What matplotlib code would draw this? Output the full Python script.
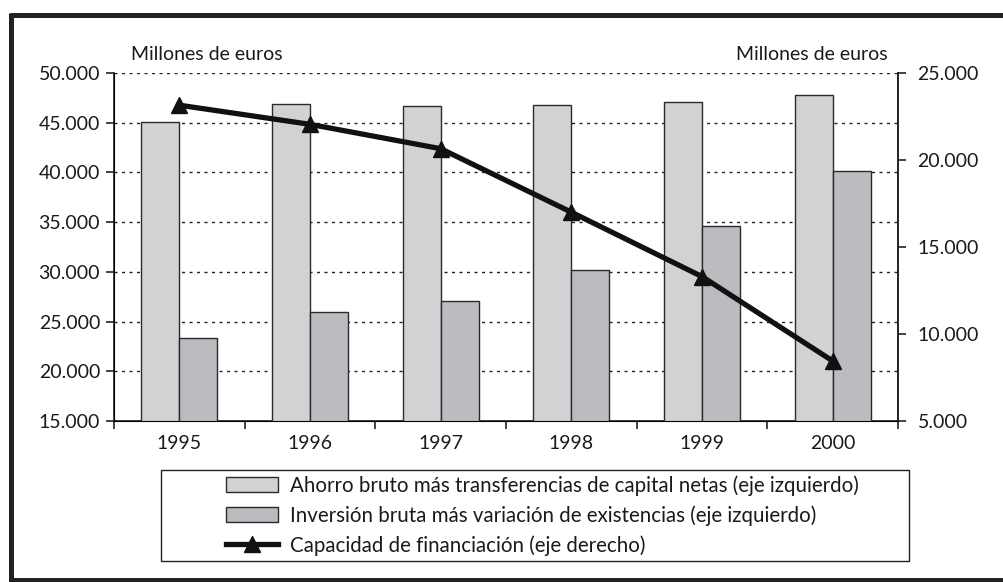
import matplotlib
matplotlib.use("Agg")
import matplotlib.pyplot as plt
from matplotlib.patches import Rectangle, Patch
from matplotlib.lines import Line2D
from matplotlib.ticker import FuncFormatter, FixedLocator

plt.rcParams["font.family"] = ["Lato", "DejaVu Sans"]

years = ["1995", "1996", "1997", "1998", "1999", "2000"]
ahorro = [45100, 46850, 46700, 46800, 47050, 47800]
inversion = [23300, 26000, 27100, 30200, 34600, 40100]
capacidad = [23150, 22050, 20650, 17000, 13300, 8450]

left_ticks = [15000, 20000, 25000, 30000, 35000, 40000, 45000, 50000]
right_ticks = [5000, 10000, 15000, 20000, 25000]

labels = [
    "Ahorro bruto más transferencias de capital netas (eje izquierdo)",
    "Inversión bruta más variación de existencias (eje izquierdo)",
    "Capacidad de financiación (eje derecho)",
]

LIGHT = "#d1d2d4"
DARK = "#bbbcc0"
EDGE = "#2a2a2a"
TXT = "#1a1a1a"
FS = 14


def miles(v, _pos=None):
    return f"{int(v):,}".replace(",", ".")


fig = plt.figure(figsize=(10.04, 5.82), dpi=100)
ax = fig.add_axes([114 / 1004, 1 - 421 / 582, 784 / 1004, 348 / 582])

x = list(range(len(years)))
w = 0.29
ax.bar([i - w / 2 for i in x], ahorro, width=w, color=LIGHT,
       edgecolor=EDGE, linewidth=1.0, zorder=3)
ax.bar([i + w / 2 for i in x], inversion, width=w, color=DARK,
       edgecolor=EDGE, linewidth=1.0, zorder=3)

ax.set_xlim(-0.5, len(years) - 0.5)
ax.set_ylim(left_ticks[0], left_ticks[-1])
ax.set_yticks(left_ticks)
ax.yaxis.set_major_formatter(FuncFormatter(miles))
ax.yaxis.grid(True, linestyle=(0, (2.2, 3.2)), color="#222222", linewidth=1.0, zorder=0)
ax.set_axisbelow(True)

# ticks at category boundaries, labels centred under each pair of bars
ax.xaxis.set_major_locator(FixedLocator([i - 0.5 for i in range(len(years) + 1)]))
ax.xaxis.set_minor_locator(FixedLocator(x))
ax.set_xticklabels([], minor=False)
ax.set_xticklabels(years, minor=True)
ax.tick_params(axis="x", which="major", direction="out", length=6, width=1.2, color="#222222")
ax.tick_params(axis="x", which="minor", length=0, pad=10, labelsize=FS, labelcolor=TXT)
ax.tick_params(axis="y", direction="out", length=6, width=1.2, pad=4,
               labelsize=FS, labelcolor=TXT, color="#222222")

ax.spines["top"].set_visible(False)
for s in ["left", "bottom", "right"]:
    ax.spines[s].set_linewidth(1.2)
    ax.spines[s].set_color("#222222")

ax2 = ax.twinx()
ax2.plot(x, capacidad, color="#111111", linewidth=3.8, marker="^",
         markersize=11, zorder=5, clip_on=False)
ax2.set_ylim(right_ticks[0], right_ticks[-1])
ax2.set_yticks(right_ticks)
ax2.yaxis.set_major_formatter(FuncFormatter(miles))
ax2.tick_params(axis="y", direction="out", length=6, width=1.2, pad=8,
                labelsize=FS, labelcolor=TXT, color="#222222")
ax2.spines["top"].set_visible(False)
ax2.spines["right"].set_linewidth(1.2)
ax2.spines["right"].set_color("#222222")

fig.text(131 / 1004, 1 - 54 / 582, "Millones de euros", fontsize=FS,
         ha="left", va="center", color=TXT)
fig.text(888 / 1004, 1 - 54 / 582, "Millones de euros", fontsize=FS,
         ha="right", va="center", color=TXT)

# legend box
fig.patches.append(Rectangle((161 / 1004, 1 - 561 / 582), 748 / 1004, 91 / 582,
                             transform=fig.transFigure, fill=False,
                             edgecolor="#222222", linewidth=1.0))
handles = [
    Patch(facecolor=LIGHT, edgecolor=EDGE, linewidth=1.0),
    Patch(facecolor=DARK, edgecolor=EDGE, linewidth=1.0),
    Line2D([], [], color="#111111", linewidth=3.8, marker="^", markersize=11),
]
fig.legend(handles, labels, loc="upper left",
           bbox_to_anchor=(210 / 1004, 1 - 459 / 582), frameon=False,
           fontsize=14.8, handlelength=2.5, handleheight=0.75, handletextpad=0.6,
           labelspacing=0.45, borderpad=0.3, labelcolor=TXT)

# outer frame: left, top and bottom rules (right side runs off the page)
frame = dict(color="#222222", linewidth=3.6, solid_capstyle="butt",
             transform=fig.transFigure)
fig.lines.append(Line2D([9.5 / 1004, 1.0], [1 - 15 / 582] * 2, **frame))
fig.lines.append(Line2D([9.5 / 1004, 1.0], [1 - 580 / 582] * 2, **frame))
fig.lines.append(Line2D([11.5 / 1004] * 2, [1 - 13 / 582, 1 - 582 / 582], **frame))

fig.savefig("out.png", dpi=100)
